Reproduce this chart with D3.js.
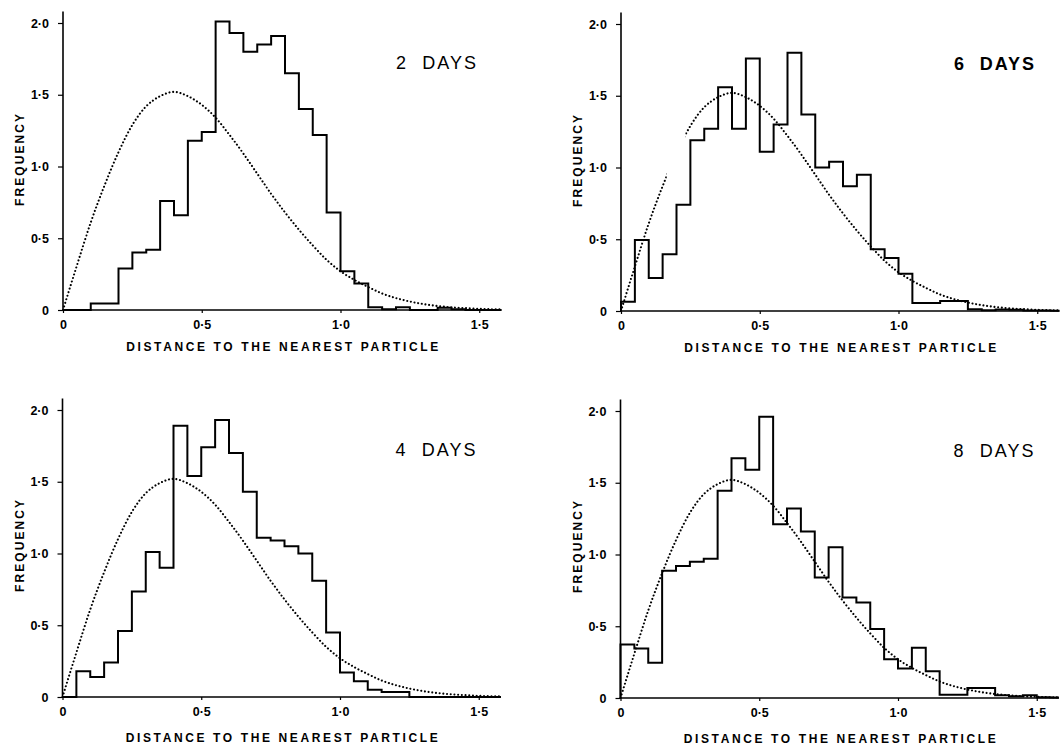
<!DOCTYPE html>
<html>
<head>
<meta charset="utf-8">
<script src="https://cdn.jsdelivr.net/npm/d3@7/dist/d3.min.js"></script>
<style>
  html, body { margin: 0; padding: 0; background: #fff; }
  svg { display: block; }
  text { font-family: "Liberation Sans", Arial, sans-serif; fill: #000; }
</style>
</head>
<body>
<svg id="chart" width="1063" height="747"></svg>
<script>
// ---- data ----
const binStarts = [0, 0.05, 0.10, 0.15, 0.20, 0.25, 0.30, 0.35, 0.40, 0.45, 0.50, 0.55, 0.60, 0.65, 0.70, 0.75,
                   0.80, 0.85, 0.90, 0.95, 1.00, 1.05, 1.10, 1.15, 1.20, 1.25, 1.30, 1.35, 1.40, 1.45, 1.50, 1.55];
const binWidth = 0.05;

const freq2days = [0, 0, 0.045, 0.045, 0.29, 0.40, 0.42, 0.76, 0.66, 1.18, 1.24, 2.01, 1.93, 1.80, 1.85, 1.91,
                   1.65, 1.40, 1.22, 0.68, 0.27, 0.185, 0.02, 0.005, 0.02, 0, 0, 0.015, 0.005, 0, 0, 0];
const freq6days = [0.065, 0.495, 0.23, 0.395, 0.74, 1.19, 1.27, 1.56, 1.27, 1.76, 1.11, 1.30, 1.80, 1.37, 1.00, 1.04,
                   0.87, 0.95, 0.43, 0.37, 0.26, 0.055, 0.055, 0.07, 0.07, 0.012, 0.005, 0.01, 0.008, 0.004, 0.003, 0.002];
const freq4days = [0, 0.18, 0.14, 0.24, 0.46, 0.735, 1.01, 0.90, 1.89, 1.54, 1.74, 1.93, 1.70, 1.43, 1.11, 1.09,
                   1.05, 1.00, 0.81, 0.45, 0.17, 0.11, 0.05, 0.035, 0.035, 0, 0, 0, 0, 0, 0, 0];
const freq8days = [0.373, 0.345, 0.245, 0.886, 0.92, 0.95, 0.97, 1.445, 1.67, 1.59, 1.96, 1.21, 1.32, 1.16, 0.84, 1.05,
                   0.70, 0.665, 0.48, 0.27, 0.205, 0.35, 0.186, 0.023, 0.023, 0.07, 0.07, 0.02, 0.012, 0.02, 0.005, 0.003];

// dotted reference curve (same in every panel)
const curveX = [0, 0.05, 0.10, 0.15, 0.20, 0.25, 0.30, 0.35, 0.40, 0.45, 0.50, 0.55, 0.60, 0.65, 0.70, 0.75, 0.80,
                0.85, 0.90, 0.95, 1.00, 1.05, 1.10, 1.15, 1.20, 1.25, 1.30, 1.35, 1.40, 1.45, 1.50, 1.55, 1.58];
const curveY = [0, 0.31, 0.61, 0.87, 1.10, 1.29, 1.42, 1.49, 1.52, 1.49, 1.43, 1.34, 1.22, 1.09, 0.95, 0.81, 0.68,
                0.56, 0.45, 0.35, 0.27, 0.21, 0.16, 0.115, 0.083, 0.059, 0.041, 0.028, 0.019, 0.013, 0.008, 0.005, 0.004];

const xTickValues = [0, 0.5, 1.0, 1.5];
const xTickLabels = ["0", "0·5", "1·0", "1·5"];
const yTickValues = [0, 0.5, 1.0, 1.5, 2.0];
const yTickLabels = ["0", "0·5", "1·0", "1·5", "2·0"];

const panelLabels = ["2  DAYS", "6  DAYS", "4  DAYS", "8  DAYS"];
const xTitle = "DISTANCE TO THE NEAREST PARTICLE";
const yTitle = "FREQUENCY";

// ---- layout ----
const panels = [
  { label: panelLabels[0], values: freq2days, x0: 63,    y0: 310, bold: false, gaps: [] },
  { label: panelLabels[1], values: freq6days, x0: 621,   y0: 311, bold: true,  gaps: [[0.165, 0.232]] },
  { label: panelLabels[2], values: freq4days, x0: 62.5,  y0: 697, bold: false, gaps: [] },
  { label: panelLabels[3], values: freq8days, x0: 620.5, y0: 698, bold: false, gaps: [] }
];
const xUnit = 277.5, yUnit = 143.5, xMax = 1.58, yAxisTop = 2.08;

const svg = d3.select("#chart");

panels.forEach((p, pi) => {
  const x = d3.scaleLinear().domain([0, xMax]).range([p.x0, p.x0 + xMax * xUnit]);
  const y = d3.scaleLinear().domain([0, 2]).range([p.y0, p.y0 - 2 * yUnit]);
  const g = svg.append("g");

  // axes
  const xAxis = d3.axisBottom(x).tickValues(xTickValues).tickSize(3).tickFormat((d, i) => xTickLabels[i]);
  const gx = g.append("g").attr("transform", `translate(0,${p.y0})`).call(xAxis);
  gx.select(".domain").attr("d", `M${x(0)},0H${x(xMax)}`).attr("stroke", "#000").attr("stroke-width", 1.6);
  gx.selectAll(".tick line").attr("stroke", "#000").attr("stroke-width", 1.2);
  gx.selectAll(".tick text").attr("font-size", 12.5).attr("font-weight", "bold").attr("dy", "1.05em")
    .attr("font-family", "'Liberation Sans', Arial, sans-serif").attr("fill", "#000");

  const yAxis = d3.axisLeft(y).tickValues(yTickValues).tickSize(5).tickPadding(9).tickFormat((d, i) => yTickLabels[i]);
  const gy = g.append("g").attr("transform", `translate(${p.x0},0)`).call(yAxis);
  gy.select(".domain").attr("d", `M0,${y(0)}V${y(yAxisTop)}`).attr("stroke", "#000").attr("stroke-width", 1.6);
  gy.selectAll(".tick line").attr("stroke", "#000").attr("stroke-width", 1.2);
  gy.selectAll(".tick text").attr("font-size", 12.5).attr("font-weight", "bold")
    .attr("font-family", "'Liberation Sans', Arial, sans-serif").attr("fill", "#000");

  // dotted curve (with optional gaps)
  const maskId = "gapmask" + pi;
  const mask = svg.append("defs").append("mask").attr("id", maskId);
  mask.append("rect").attr("x", 0).attr("y", 0).attr("width", 1063).attr("height", 747).attr("fill", "#fff");
  p.gaps.forEach(gp => {
    mask.append("rect").attr("x", x(gp[0])).attr("y", y(2.2)).attr("width", x(gp[1]) - x(gp[0]))
      .attr("height", y(-0.2) - y(2.2)).attr("fill", "#000");
  });
  const curveLine = d3.line().x((d, i) => x(curveX[i])).y(d => y(d)).curve(d3.curveMonotoneX);
  g.append("path").datum(curveY).attr("d", curveLine)
    .attr("fill", "none").attr("stroke", "#000").attr("stroke-width", 2.1)
    .attr("stroke-dasharray", "0.01 3.7").attr("stroke-linecap", "round")
    .attr("mask", `url(#${maskId})`);

  // histogram outline
  const pts = [[0, 0]].concat(binStarts.map((b, i) => [b, p.values[i]]));
  pts.push([xMax, p.values[p.values.length - 1]]);
  const stepLine = d3.line().x(d => x(d[0])).y(d => y(d[1])).curve(d3.curveStepAfter);
  g.append("path").datum(pts).attr("d", stepLine)
    .attr("fill", "none").attr("stroke", "#000").attr("stroke-width", 2).attr("stroke-linejoin", "miter");

  // titles
  g.append("text").attr("x", x(0.79)).attr("y", p.y0 + (pi < 2 ? 41 : 45))
    .attr("text-anchor", "middle").attr("font-size", 12).attr("font-weight", "bold")
    .attr("textLength", 312).attr("lengthAdjust", "spacing").text(xTitle);

  const fy = (pi < 2) ? p.y0 - 150 : p.y0 - 151;
  g.append("text").attr("transform", `translate(${p.x0 - 43},${fy}) rotate(-90)`)
    .attr("text-anchor", "middle").attr("font-size", 12).attr("font-weight", "bold")
    .attr("dy", "0.35em").attr("textLength", 92).attr("lengthAdjust", "spacing").text(yTitle);

  g.append("text").attr("x", p.x0 + 333).attr("y", p.y0 - 241)
    .attr("font-size", 18).attr("font-weight", p.bold ? "bold" : "normal")
    .attr("textLength", 80).attr("lengthAdjust", "spacing")
    .attr("font-family", "'DejaVu Sans', sans-serif")
    .text(p.label).style("white-space", "pre");
});
</script>
</body>
</html>
